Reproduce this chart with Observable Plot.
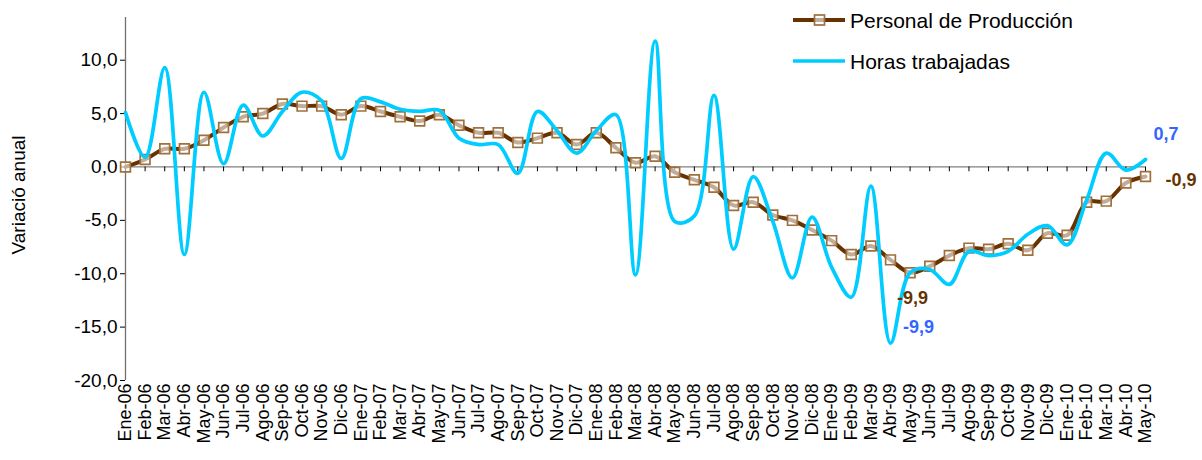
<!DOCTYPE html>
<html><head><meta charset="utf-8">
<script src="https://cdn.jsdelivr.net/npm/d3@7"></script>
<script src="https://cdn.jsdelivr.net/npm/@observablehq/plot@0.6"></script>
<style>
body{margin:0;background:#fff;font-family:"Liberation Sans",Arial,sans-serif;}
#wrap{position:relative;width:1202px;height:460px;}
#legend{position:absolute;left:780px;top:0;}
</style></head><body><div id="wrap"></div>
<script>
const months = ["Ene-06","Feb-06","Mar-06","Abr-06","May-06","Jun-06","Jul-06","Ago-06","Sep-06","Oct-06","Nov-06","Dic-06",
"Ene-07","Feb-07","Mar-07","Abr-07","May-07","Jun-07","Jul-07","Ago-07","Sep-07","Oct-07","Nov-07","Dic-07",
"Ene-08","Feb-08","Mar-08","Abr-08","May-08","Jun-08","Jul-08","Ago-08","Sep-08","Oct-08","Nov-08","Dic-08",
"Ene-09","Feb-09","Mar-09","Abr-09","May-09","Jun-09","Jul-09","Ago-09","Sep-09","Oct-09","Nov-09","Dic-09",
"Ene-10","Feb-10","Mar-10","Abr-10","May-10"];
const personal = [0.0,0.7,1.7,1.7,2.5,3.7,4.7,5.0,5.9,5.7,5.7,4.9,
5.7,5.2,4.7,4.3,4.9,3.9,3.2,3.2,2.3,2.7,3.2,2.1,
3.2,1.8,0.4,1.0,-0.5,-1.2,-1.9,-3.6,-3.3,-4.5,-5.0,-5.9,
-6.9,-8.2,-7.4,-8.7,-9.9,-9.3,-8.3,-7.6,-7.7,-7.2,-7.8,-6.2,
-6.4,-3.3,-3.2,-1.5,-0.9];
const horas = [5.1,0.9,9.3,-8.2,7.0,0.3,5.8,2.9,5.2,7.0,6.2,0.8,
6.4,6.1,5.4,5.2,5.3,2.7,2.1,2.1,-0.6,5.2,3.4,1.3,
3.4,4.9,-10.1,11.8,-5.1,-4.6,6.7,-7.7,-0.9,-5.1,-10.4,-4.7,
-9.4,-12.2,-1.8,-16.5,-9.9,-9.6,-11.0,-7.9,-8.3,-7.9,-6.3,-5.5,
-7.3,-3.1,1.3,-0.3,0.7];
const yTicks = [-20,-15,-10,-5,0,5,10];
const seriesNames = ["Personal de Producción","Horas trabajadas"];
const yTitle = "Variació anual";

const cPers = "#663300", cPersMark = "#A0703C", cHoras = "#00CCFF", cBlue = "#3366FF";
const fmt = v => v.toFixed(1).replace(".", ",");
const rows = months.map((m,i)=>({m, p: personal[i], h: horas[i]}));
const iMin = d3.minIndex(personal);
const last = rows.length - 1;

const chart = Plot.plot({
  width: 1202, height: 460,
  marginLeft: 125, marginRight: 57, marginTop: 17, marginBottom: 80,
  style: {fontFamily: "'Liberation Sans', Arial, sans-serif", background: "white", color: "#000"},
  x: {type: "point", domain: months, padding: 0},
  y: {domain: [-20, 14]},
  marks: [
    Plot.axisY(yTicks, {tickSize: 5, tickPadding: 3, tickFormat: fmt, fontSize: 19, label: null}),
    Plot.axisX({anchor: "bottom", tickSize: 0, tickRotate: -90, tickPadding: 3, fontSize: 18, label: null}),
    Plot.text([yTitle], {frameAnchor: "left", textAnchor: "middle", rotate: -90, dx: -107, dy: -4, fontSize: 19}),
    Plot.ruleX([months[0]], {y1: -20, y2: 14, stroke: "#707070", strokeWidth: 1.3}),
    Plot.ruleY([0], {stroke: "#808080", strokeWidth: 1.3}),
    Plot.ruleX(months, {y1: 0, y2: -0.45, stroke: "#000"}),
    Plot.line(rows, {x: "m", y: "p", stroke: cPers, strokeWidth: 4, curve: "catmull-rom"}),
    Plot.dot(rows, {x: "m", y: "p", symbol: "square", r: 5.5, stroke: cPersMark, strokeWidth: 1.7, fill: "white", fillOpacity: 0.6}),
    Plot.line(rows, {x: "m", y: "h", stroke: cHoras, strokeWidth: 3.7, curve: "catmull-rom"}),
    Plot.text([rows[iMin]], {x: "m", y: "p", text: d => fmt(d.p), textAnchor: "start", dx: -13, dy: 26, fill: cPers, fontWeight: "bold", fontSize: 18}),
    Plot.text([rows[iMin]], {x: "m", y: "h", text: d => fmt(d.h), textAnchor: "start", dx: -7, dy: 55, fill: cBlue, fontWeight: "bold", fontSize: 18}),
    Plot.text([rows[last]], {x: "m", y: "h", text: d => fmt(d.h), textAnchor: "start", dx: 8, dy: -25, fill: cBlue, fontWeight: "bold", fontSize: 18}),
    Plot.text([rows[last]], {x: "m", y: "p", text: d => fmt(d.p), textAnchor: "start", dx: 20, dy: 4, fill: cPers, fontWeight: "bold", fontSize: 18})
  ]
});
const wrap = document.getElementById("wrap");
wrap.appendChild(chart);

// legend
const lg = d3.select(wrap).append("svg").attr("id","legend").attr("width",420).attr("height",80);
const items = [{name: seriesNames[0], color: cPers, marker: true, y: 20}, {name: seriesNames[1], color: cHoras, marker: false, y: 61}];
items.forEach(it => {
  lg.append("line").attr("x1",13).attr("x2",65).attr("y1",it.y).attr("y2",it.y).attr("stroke",it.color).attr("stroke-width", it.marker ? 4 : 3.7);
  if (it.marker) lg.append("rect").attr("x",34.5).attr("y",it.y-5).attr("width",10).attr("height",10).attr("fill","white").attr("fill-opacity",0.6).attr("stroke",cPersMark).attr("stroke-width",1.7);
  lg.append("text").attr("x",70).attr("y",it.y).attr("dy","0.36em").attr("font-size",21).attr("font-family","'Liberation Sans', Arial, sans-serif").attr("fill","#000").text(it.name);
});
</script></body></html>
